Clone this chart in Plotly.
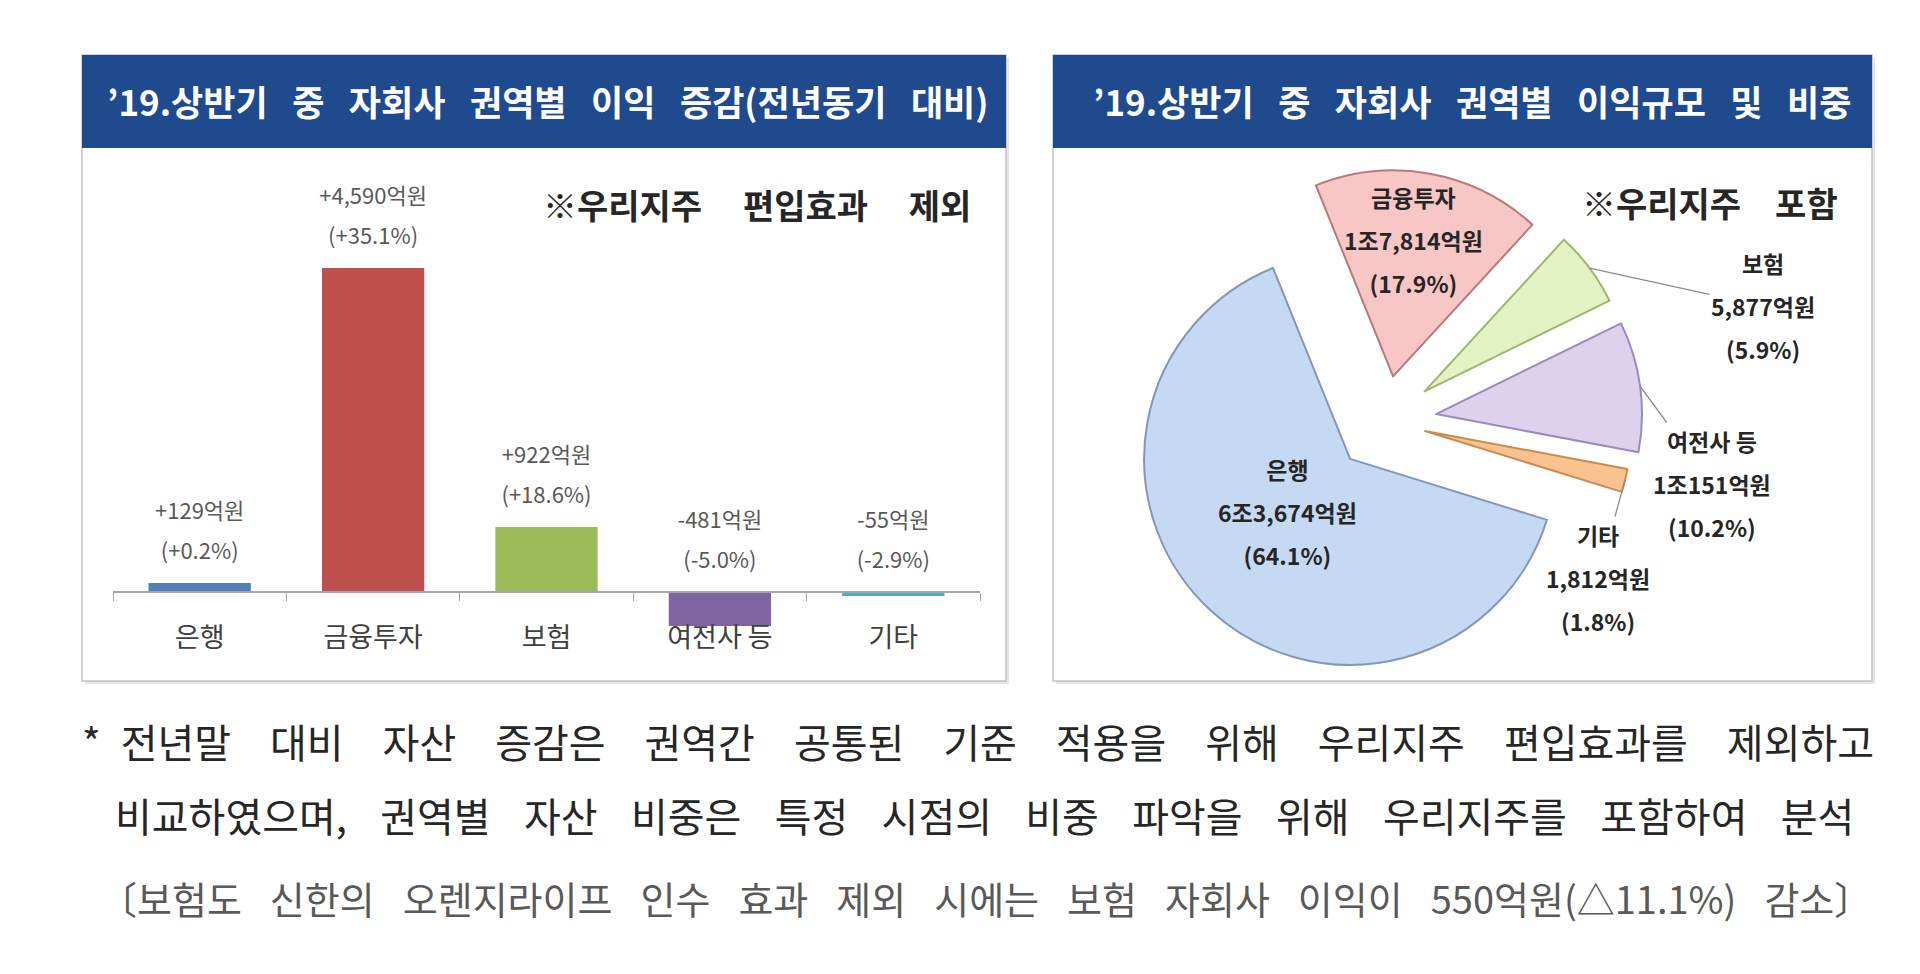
import math

import plotly.graph_objects as go

# '19 상반기 자회사 권역별 이익 증감 (전년동기 대비, 억원 / %)
bar_categories = ["은행", "금융투자", "보험", "여전사 등", "기타"]
bar_change = [129, 4590, 922, -481, -55]
bar_change_pct = [0.2, 35.1, 18.6, -5.0, -2.9]
bar_colors = ["#4F81BD", "#C0504D", "#9BBB59", "#8064A2", "#4BACC6"]

# '19 상반기 자회사 권역별 이익규모 (억원), 시계방향 순서
pie_labels = ["금융투자", "보험", "여전사 등", "기타", "은행"]
pie_values = [17814, 5877, 10151, 1812, 63674]
pie_fill = ["#F7C6C5", "#E4F1C4", "#DDD1EE", "#F8C38F", "#C5D9F3"]
pie_edge = ["#B77A7A", "#A3B56C", "#9C8BB8", "#CC8A4C", "#8497B8"]
pie_pull = [0.22, 0.24, 0.25, 0.2, 0.25]
pie_leader = [False, True, True, True, False]
# label centres in pixels
pie_label_pos = [(1413, 240), (1763, 306), (1712, 484), (1598, 578), (1287, 512)]

left_title = "’19.상반기 중 자회사 권역별 이익 증감(전년동기 대비)"
right_title = "’19.상반기 중 자회사 권역별 이익규모 및 비중"
left_note = "※우리지주 편입효과 제외"
right_note = "※우리지주 포함"
foot_lines = [
    "*\u2002전년말 대비 자산 증감은 권역간 공통된 기준 적용을 위해 우리지주 편입효과를 제외하고",
    "비교하였으며, 권역별 자산 비중은 특정 시점의 비중 파악을 위해 우리지주를 포함하여 분석",
    "〔보험도 신한의 오렌지라이프 인수 효과 제외 시에는 보험 자회사 이익이 550억원(△11.1%) 감소〕",
]

W, H = 1920, 974
FONT = "Noto Sans CJK KR"
NAVY = "#1F4B8E"
PIE_CX, PIE_CY, PIE_BOX = 1385, 421, 515
PIE_ROT = -22


def px(x):
    return x / W


def py(y):
    return 1 - y / H


def won(v):
    jo, eok = divmod(v, 10000)
    if jo:
        return f"{jo}조{eok:,}억원"
    return f"{eok:,}억원"


def spaced(s, gap):
    return s.replace(" ", gap)


def small(s, size):
    return "<br>".join(f"<span style='font-size:{size}px'>{p}</span>" for p in s.split("<br>"))


bar_text = [small(f"{v:+,}억원<br>({p:+.1f}%)", 22)
            for v, p in zip(bar_change, bar_change_pct)]
total = sum(pie_values)
pie_text = [
    f"<b>{small(f'{lab}<br>{won(v)}<br>({v / total * 100:.1f}%)', 23)}</b>"
    for lab, v in zip(pie_labels, pie_values)
]

fig = go.Figure()

fig.add_trace(go.Bar(
    x=bar_categories, y=bar_change, width=0.59,
    marker=dict(color=bar_colors, line=dict(width=0)),
    hoverinfo="skip", showlegend=False,
))
# value labels always sit above the zero line, also for negative bars
fig.add_trace(go.Scatter(
    x=bar_categories, y=[max(v, 0) for v in bar_change],
    mode="markers+text", marker=dict(size=24, opacity=0),
    text=bar_text, textposition="top center",
    textfont=dict(family=FONT, size=31, color="#595959"),
    hoverinfo="skip", showlegend=False,
))

half = PIE_BOX / 2
fig.add_trace(go.Pie(
    labels=pie_labels, values=pie_values, sort=False,
    direction="clockwise", rotation=PIE_ROT, pull=pie_pull,
    marker=dict(colors=pie_fill, line=dict(color=pie_edge, width=2)),
    textinfo="none", textposition="none",
    domain=dict(x=[px(PIE_CX - half), px(PIE_CX + half)],
                y=[py(PIE_CY + half), py(PIE_CY - half)]),
    hoverinfo="skip", showlegend=False,
))

shapes = []
for x0, x1 in [(82, 1006), (1053, 1872)]:
    shapes.append(dict(type="rect", xref="paper", yref="paper",
                       x0=px(x0 + 3), x1=px(x1 + 3), y0=py(684), y1=py(58),
                       line=dict(width=0), fillcolor="#E6E6E6", layer="below"))
    shapes.append(dict(type="rect", xref="paper", yref="paper",
                       x0=px(x0), x1=px(x1), y0=py(681), y1=py(55),
                       line=dict(color="#C4C4C4", width=1.5), fillcolor="white",
                       layer="below"))
    shapes.append(dict(type="rect", xref="paper", yref="paper",
                       x0=px(x0), x1=px(x1), y0=py(148), y1=py(55),
                       line=dict(width=0), fillcolor=NAVY, layer="below"))

annotations = [
    dict(text=f"<b>{spaced(left_title, chr(0x2002) + chr(0x2009))}</b>", x=px(548), y=py(101),
         font=dict(family=FONT, size=35, color="white")),
    dict(text=f"<b>{spaced(right_title, chr(0x2002) + chr(0x2009))}</b>", x=px(1472), y=py(101),
         font=dict(family=FONT, size=35, color="white")),
    dict(text=f"<b>{spaced(left_note, chr(0x2003) + chr(0x2009))}</b>", x=px(973), y=py(205),
         xanchor="right", font=dict(family=FONT, size=34, color="#262626")),
    dict(text=f"<b>{spaced(right_note, chr(0x2003))}</b>", x=px(1840), y=py(202),
         xanchor="right", font=dict(family=FONT, size=34, color="#262626")),
    dict(text=spaced(foot_lines[0], " \u2002\u2005"), x=px(80), y=py(741), xanchor="left",
         font=dict(family=FONT, size=40, color="#262626")),
    dict(text=spaced(foot_lines[1], "\u2002\u2004"), x=px(113), y=py(815), xanchor="left",
         font=dict(family=FONT, size=40, color="#262626")),
    dict(text=spaced(foot_lines[2], " \u2009\u2005\u200a"), x=px(97), y=py(897), xanchor="left",
         font=dict(family=FONT, size=38, color="#595959")),
]

# pie labels; the small slices get a leader line from the middle of their arc,
# using the same geometry plotly uses for the pie (radius shrunk by max pull)
radius = PIE_BOX / (2 * (1 + max(pie_pull)))
start = PIE_ROT
for i, v in enumerate(pie_values):
    span = v / total * 360
    mid = math.radians(start + span / 2)
    start += span
    lx, ly = pie_label_pos[i]
    label = dict(text=pie_text[i], font=dict(family=FONT, size=33, color="#262626"))
    if pie_leader[i]:
        reach = radius * (1 + pie_pull[i])
        tip_x = PIE_CX + reach * math.sin(mid)
        tip_y = PIE_CY - reach * math.cos(mid)
        label.update(x=px(tip_x), y=py(tip_y), ax=lx - tip_x, ay=ly - tip_y,
                     showarrow=True, arrowhead=0, arrowwidth=1.3,
                     arrowcolor="#8C8C8C", standoff=0)
    else:
        label.update(x=px(lx), y=py(ly))
    annotations.append(label)

for a in annotations:
    a.update(xref="paper", yref="paper")
    a.setdefault("showarrow", False)
    a.setdefault("xanchor", "center")
    a.setdefault("yanchor", "middle")

fig.update_layout(
    width=W, height=H, margin=dict(l=0, r=0, t=0, b=0),
    paper_bgcolor="white", plot_bgcolor="rgba(0,0,0,0)",
    font=dict(family=FONT), bargap=0.41,
    shapes=shapes, annotations=annotations,
    xaxis=dict(domain=[px(113), px(980)], anchor="free", position=py(592),
               showline=True, linecolor="#A6A6A6", linewidth=1.5,
               ticks="outside", tickson="boundaries", ticklen=8,
               tickcolor="#A6A6A6", ticklabelstandoff=22,
               tickfont=dict(family=FONT, size=27, color="#404040"),
               showgrid=False, fixedrange=True),
    yaxis=dict(domain=[py(660), py(160)], range=[-963, 6120], visible=False,
               fixedrange=True),
)

fig.write_html("out.html", config={"displayModeBar": False},
               post_script="document.body.style.margin='0';")
